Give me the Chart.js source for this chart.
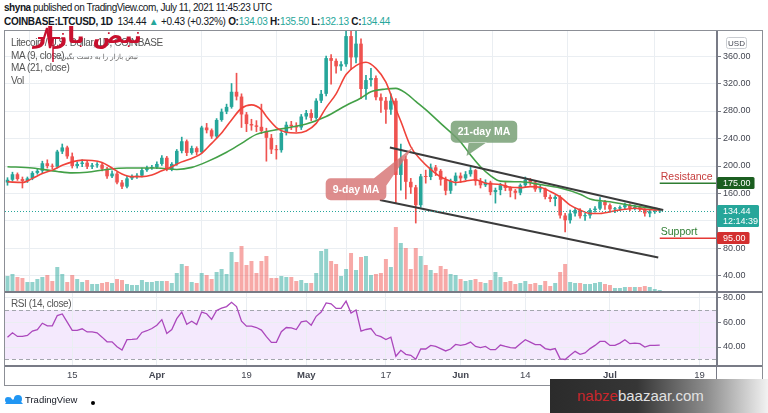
<!DOCTYPE html>
<html><head><meta charset="utf-8">
<script src="https://cdn.jsdelivr.net/npm/chart.js@4.4.0/dist/chart.umd.min.js"></script>
<style>
body{margin:0;width:768px;height:413px;overflow:hidden;background:#fff;position:relative;font-family:'Liberation Sans',Arial,sans-serif;color:#131722}
.abs{position:absolute;white-space:nowrap}
#h1{left:4px;top:2px;font-size:10px;line-height:12px;letter-spacing:-0.45px}
#h2{left:4px;top:16px;font-size:10px;line-height:12px;letter-spacing:-0.3px}
.t{color:#26a69a}
#frame{left:4px;top:30px;width:759px;height:356px;box-sizing:border-box;border:1px solid #8c8f96}
.sep{background:#787b86}
.leg{left:11px;font-size:10px;line-height:12px;color:#555;letter-spacing:-0.4px}
#banner{left:550px;top:379px;width:218px;height:34px;background:linear-gradient(90deg,#2b2b2b 0%,#363636 40%,#8d8d8d 72%,#f2f2f2 100%)}
#bannerText{left:577px;top:387px;font-size:15px;line-height:18px;letter-spacing:0px}
</style></head>
<body>
<div id="h1" class="abs"><b>shyna</b> published on TradingView.com, July 11, 2021 11:45:23 UTC</div>
<div id="h2" class="abs"><b>COINBASE:LTCUSD, 1D</b>&nbsp; 134.44 <span class="t">▲</span> +0.43 (+0.32%) <b>O:</b><span class="t">134.03</span> <b>H:</b><span class="t">135.50</span> <b>L:</b><span class="t">132.13</span> <b>C:</b><span class="t">134.44</span></div>
<div id="frame" class="abs"></div>
<canvas id="cP" class="abs" width="757" height="261" style="left:5px;top:31px"></canvas>
<canvas id="cR" class="abs" width="757" height="92" style="left:5px;top:293px"></canvas>
<div class="abs sep" style="left:5px;top:291px;width:757px;height:2px"></div>
<div class="abs sep" style="left:5px;top:365px;width:757px;height:2px"></div>
<div class="abs sep" style="left:716px;top:31px;width:1px;height:354px"></div>
<div class="abs leg" style="top:37px">Litecoin / U.S. Dollar, 1D, COINBASE</div>
<div class="abs leg" style="top:50px">MA (9, close)</div>
<div class="abs leg" style="top:62px">MA (21, close)</div>
<div class="abs leg" style="top:75px">Vol</div>
<div class="abs leg" style="top:298px">RSI (14, close)</div>
<svg class="abs" style="left:38px;top:24px" width="30" height="40"><polyline points="0,14 6,14 9,4 12,24 15,14 22,14" fill="none" stroke="#c8102e" stroke-width="2.2"/><line x1="15" y1="14" x2="15" y2="38" stroke="#c8102e" stroke-width="1.5"/></svg>
<div class="abs" style="left:60px;top:22px;width:82px;text-align:center;font-family:'DejaVu Sans';font-weight:bold;font-size:23px;line-height:26px;color:#c8102e;direction:rtl">نبض بازار</div>
<div class="abs" style="left:64px;top:53px;width:74px;text-align:center;font-family:'DejaVu Sans';font-size:7px;line-height:8px;color:#666;direction:rtl">نبض بازار را به دست بگیرید</div>
<svg class="abs" style="left:4px;top:394px" width="20" height="12"><path d="M1 10 L6 3 L9 6 L12 2 L19 10 Z" fill="#2196f3"/><circle cx="4" cy="6" r="3" fill="#2196f3"/><circle cx="14" cy="5" r="4" fill="#2196f3"/></svg>
<div class="abs" style="left:25px;top:394px;font-size:9.5px;line-height:12px;color:#131722">TradingView</div>
<div class="abs" style="left:91px;top:401px;width:4px;height:4px;border-radius:2px;background:#000"></div>
<div id="banner" class="abs"></div>
<div id="bannerText" class="abs"><span style="color:#c9262c">nabze</span><span style="color:#e2e2e2">baazaar.com</span></div>
<script>
// ---------- data ----------
const firstDay = '2021-03-02';
const opens  = [176,180,188,181,178,182,190,193,204,200,199,221,227,214,200,203,205,199,201,202,196,185,189,176,170,
 182,184,186,194,197,198,203,212,195,203,222,236,219,226,220,256,252,243,267,279,286,308,301,275,261,259,
 257,251,241,224,223,248,260,258,256,272,277,270,295,305,357,353,345,348,389,358,378,312,325,328,300,
 295,282,295,187,210,177,169,143,185,184,198,193,180,164,178,186,182,188,194,178,172,176,162,165,172,
 168,164,161,172,180,176,166,167,155,152,155,128,121,131,136,127,128,136,138,148,143,137,138,140,143,139,140,137,131,134,134.03];
const highs  = [183,191,190,184,184,192,196,207,209,203,223,232,229,219,206,209,208,204,205,204,198,193,191,179,185,
 187,189,197,200,201,206,215,214,205,224,242,238,229,228,258,262,254,269,283,290,320,335,305,278,268,266,
 290,255,246,230,252,264,265,263,275,281,282,298,310,360,362,356,352,400,413,400,385,332,342,331,305,
 300,305,298,232,214,182,172,188,194,203,201,195,184,181,190,190,192,198,195,182,180,178,168,175,176,
 170,166,174,184,182,178,172,168,158,157,157,131,136,139,138,131,138,141,154,150,145,140,142,146,145,143,142,138,136,137,135.5];
const lows   = [172,178,179,168,176,180,188,190,197,196,197,218,211,197,197,199,196,196,198,193,182,183,174,167,168,
 180,182,184,192,195,196,201,193,193,201,219,215,217,216,219,248,240,241,265,276,284,296,256,250,252,250,
 247,207,218,210,220,245,253,250,253,268,266,268,292,302,319,335,339,345,340,350,298,297,316,296,278,
 262,275,146,165,152,160,117,140,175,180,186,172,158,160,172,176,180,185,172,168,170,158,146,158,164,
 155,152,158,170,172,163,162,152,148,142,124,104,117,127,124,121,124,133,136,137,133,132,135,137,135,136,134,127,126,131,132.13];
const closes = [180,188,181,178,182,190,193,204,200,199,221,227,214,200,203,205,199,201,202,196,185,189,176,170,182,
 184,186,194,197,198,203,212,195,203,222,236,219,226,220,256,252,243,267,279,286,308,301,275,261,259,257,
 251,241,224,223,248,260,258,256,272,277,270,295,305,357,353,345,348,389,358,378,312,325,328,300,295,
 282,295,187,210,177,169,143,185,184,198,193,180,164,178,186,182,188,194,178,172,176,162,165,172,168,
 164,161,172,180,176,166,167,155,152,155,128,121,131,136,127,128,136,138,148,143,137,138,140,143,139,140,137,131,134,134.03,134.44];
const volumes = [320,360,300,280,200,200,260,300,340,220,500,360,200,340,260,200,240,160,160,180,200,180,260,240,160,
 140,140,240,200,200,220,220,220,180,380,560,520,200,180,380,340,260,400,460,360,800,600,920,540,620,380,
 620,720,280,280,320,300,300,220,240,180,180,380,820,860,620,560,320,460,780,440,700,720,340,360,380,
 660,500,1300,980,880,460,880,720,540,440,380,520,460,360,340,260,220,240,260,200,180,240,400,300,200,
 220,160,180,220,160,180,140,220,120,180,400,560,200,180,180,160,160,180,200,160,140,80,80,100,100,100,100,120,100,60,40];
const rsi = [48,51.5,48.6,48.6,49.4,52.9,54,59.3,57.2,57.2,65.5,66.8,60.2,53.5,53.5,54.8,52.2,52.2,51.5,48,44.2,44.2,40.2,37.5,
 46,46.2,46.5,51.8,53.2,55,57.7,62.2,51,54.2,63,68.3,58.5,60.9,58.2,68.3,67,62.4,69.6,71.5,72.8,76.3,72.8,60.9,56.9,56.9,55.8,53.7,48.4,43.8,
 43.8,52.4,55.8,55.6,54.2,60.4,61.2,57.7,64.9,68.4,75.8,75,71.3,71.3,77.2,67.6,70,52.9,54.2,55,49.7,48.4,
 46.1,48,32.5,37.3,34.1,33.3,30.1,38.4,38.4,41.3,40.5,38.7,36.8,38.4,42.1,41.3,42.1,44,40.5,39.5,
 40.5,37.8,37.8,41.6,40.5,39.5,39.2,42.7,45.9,44,41.9,41.9,38.7,37.8,38.7,30.4,29.9,33.3,36.5,34.1,
 35.2,38.7,41.3,44.5,44.5,41.3,41.3,43.2,45.9,42.7,43.2,42.7,40,41.3,41.3,41.6];
// moving averages: [day index, value]
const ma9Points = [[0,177],[3,176],[5,182],[7,189],[9,194],[11,201],[13,206],[15,208.5],[17,208],[19,205],[21,197],[23,188.5],
 [25,184.5],[27,184.5],[29,187],[31,193],[33,199],[35,206],[37,211],[39,218.5],[41,233],[43,248],[45,267],[47,284],[49,289],
 [51,282],[52,272],[54,256],[56,249],[58,248],[60,251],[62,262],[64,285],[66,305],[68,333],[70,346],[72,351],[74,342],[76,322],
 [78,283],[79,265],[81,228],[83,209],[85,195],[87,184],[89,178],[90,176],[92,178],[94,180],[96,175],[99,173],[101,169],[103,168.5],
 [105,170],[107,169],[109,163],[111,155],[113,143],[115,136],[117,131],[119,131],[120,132],[122,135],[124,137],[126,138.5],[128,137],[130,136],[131,136]];
const ma21Points = [[0,199],[5,197],[10,192],[13,190],[16,191],[20,195],[24,197],[30,197],[34,195],[37,198],[40,206],[44,220],
 [47,233],[50,246],[55,254],[60,261],[64,272],[68,288],[71,299],[73,308],[76,312],[78,313],[80,306],[82,294],[84,282],[87,262],
 [91,235],[93,216],[95,199],[97,186],[99,178],[103,177],[107,173],[111,168],[115,159],[117,152],[121,148],[125,143],[129,139],[131,137.5]];
// drawn trend channel: [day index, price]
const upperChannel = [[76.8,227],[131.7,136]];
const lowerChannel = [[74.8,150.5],[130.7,67]];
const priceTicks = [40,80,120,160,200,240,280,320,360];
const rsiTicks = [40,60,80];
const timeTicks = [['2021-03-15','15'],['2021-04-01','Apr'],['2021-04-19','19'],['2021-05-01','May'],['2021-05-17','17'],
 ['2021-06-01','Jun'],['2021-06-14','14'],['2021-07-01','Jul'],['2021-07-19','19']];
const lastPrice = 134.44, lastTime = '12:14:39';
const levels = [{text:'Resistance', price:175, from:'2021-07-11', line:'#2e7d32', textColor:'#c63c3c', tag:'#1b5e20'},
                {text:'Support', price:95, from:'2021-07-11', line:'#e53935', textColor:'#2e7d32', tag:'#d32f2f'}];
const callouts = [{text:'21-day MA', at:[95.7,250], tip:[92.2,214.5], color:'rgba(120,160,118,0.85)', tail:'bottom'},
                  {text:'9-day MA', at:[70.0,166.3], tip:[81.5,228], color:'rgba(214,112,112,0.8)', tail:'top'}];
const rsiUpper = 70, rsiLower = 30;

// ---------- chart ----------
const dayIndex = d => Math.round((Date.parse(d) - Date.parse(firstDay)) / 864e5);
const up = '#26a69a', down = '#ef5350';
const isUp = closes.map((c,i) => c >= opens[i]);
const gridColor = '#eaeef2';
const FONT = "'Liberation Sans', Arial, sans-serif";
Chart.defaults.font.family = FONT;
const xMin = -0.5, xMax = 142.5;
const tickIdx = timeTicks.map(t => dayIndex(t[0]));
const noPad = s => { s.paddingTop = 0; s.paddingBottom = 0; s.paddingLeft = 0; s.paddingRight = 0; };

const xScale = (showLabels) => ({
  type:'linear', min:xMin, max:xMax, offset:false,
  afterBuildTicks: s => { s.ticks = tickIdx.map(v => ({value:v})); },
  afterFit: s => { s.height = showLabels ? 19 : 0; noPad(s); },
  grid:{color:gridColor, drawTicks:false},
  border:{display:false},
  ticks:{display:showLabels, autoSkip:false, maxRotation:0, padding:4, color:'#434651',
    callback: v => { const k = tickIdx.indexOf(v); return k >= 0 ? timeTicks[k][1] : ''; },
    font: ctx => ({size:9.5, family:FONT, weight: (ctx.tick && /^[A-Z]/.test(timeTicks[tickIdx.indexOf(ctx.tick.value)]?.[1] || '')) ? 'bold' : 'normal'})}
});
const yRight = (min, max, ticks) => ({
  position:'right', min, max,
  afterBuildTicks: s => { s.ticks = ticks.map(v => ({value:v})); },
  afterFit: s => { s.width = 45; noPad(s); },
  grid:{color:gridColor, tickLength:4, tickColor:'#787b86'},
  border:{color:'#787b86'},
  ticks:{padding:2, color:'#434651', font:{size:9}, callback: v => Number(v).toFixed(2)}
});

function roundRect(ctx, x, y, w, h, r){ ctx.beginPath(); ctx.roundRect(x, y, w, h, r); }

const overlay = {
  id:'overlay',
  afterDatasetsDraw(chart){
    const {ctx, chartArea:a, scales:{x, y}} = chart;
    ctx.save();
    ctx.beginPath(); ctx.rect(a.left, a.top, a.right - a.left, a.bottom - a.top); ctx.clip();
    const yp = Math.round(y.getPixelForValue(lastPrice)) + 0.5;
    ctx.strokeStyle = up; ctx.lineWidth = 1; ctx.setLineDash([1,2]);
    ctx.beginPath(); ctx.moveTo(a.left, yp); ctx.lineTo(a.right, yp); ctx.stroke();
    ctx.setLineDash([]);
    levels.forEach(l => {
      const yy = y.getPixelForValue(l.price), x0 = x.getPixelForValue(dayIndex(l.from));
      ctx.strokeStyle = l.line; ctx.lineWidth = 1.5;
      ctx.beginPath(); ctx.moveTo(x0, yy); ctx.lineTo(a.right, yy); ctx.stroke();
      ctx.fillStyle = l.textColor; ctx.font = '10.5px ' + FONT; ctx.textBaseline = 'alphabetic'; ctx.textAlign = 'left';
      ctx.fillText(l.text, x0 + 1, yy - 3);
    });
    callouts.forEach(c => {
      ctx.font = 'bold 10.5px ' + FONT;
      const w = ctx.measureText(c.text).width + 14, h = 22;
      const cx = x.getPixelForValue(c.at[0]), cy = y.getPixelForValue(c.at[1]);
      const L = cx - w/2, T = cy - h/2;
      const tx = x.getPixelForValue(c.tip[0]), ty = y.getPixelForValue(c.tip[1]);
      ctx.fillStyle = c.color;
      ctx.beginPath();
      ctx.roundRect(L, T, w, h, 5);
      if (c.tail === 'bottom') { ctx.moveTo(L + 18, T + h - 0.5); ctx.lineTo(tx, ty); ctx.lineTo(L + 36, T + h - 0.5); }
      else { ctx.moveTo(L + w - 13, T + 0.5); ctx.lineTo(tx, ty); ctx.lineTo(L + w - 0.5, T + 8); }
      ctx.fill();
      ctx.fillStyle = '#fff'; ctx.textAlign = 'center'; ctx.textBaseline = 'middle';
      ctx.fillText(c.text, cx, cy + 0.5);
    });
    ctx.restore();
  },
  afterDraw(chart){
    const {ctx, chartArea:a, scales:{y}} = chart;
    ctx.save();
    ctx.font = '9px ' + FONT; ctx.textBaseline = 'middle'; ctx.textAlign = 'left';
    levels.forEach(l => {
      const yy = Math.round(y.getPixelForValue(l.price));
      const txt = l.price.toFixed(2), w = ctx.measureText(txt).width + 10;
      ctx.fillStyle = l.tag; roundRect(ctx, a.right, yy - 6, w, 12, 1.5); ctx.fill();
      ctx.fillStyle = '#fff'; ctx.fillText(txt, a.right + 6, yy + 0.5);
    });
    const yp = Math.round(y.getPixelForValue(lastPrice));
    ctx.fillStyle = up; roundRect(ctx, a.right, yp - 6, 42, 22, 1.5); ctx.fill();
    ctx.fillStyle = '#fff'; ctx.fillText(lastPrice.toFixed(2), a.right + 6, yp + 0.5); ctx.fillText(lastTime, a.right + 6, yp + 10.5);
    ctx.strokeStyle = '#c9ccd1'; ctx.lineWidth = 1; roundRect(ctx, a.right + 9.5, 6.5, 20, 11, 2); ctx.stroke();
    ctx.fillStyle = '#434651'; ctx.font = '8px ' + FONT; ctx.textAlign = 'center'; ctx.fillText('USD', a.right + 19.5, 12.5);
    ctx.restore();
  }
};

const pts = arr => arr.map(p => ({x:p[0], y:p[1]}));
new Chart(document.getElementById('cP'), {
  type:'bar',
  data:{datasets:[
    {label:'Vol', yAxisID:'yVol', data:volumes.map((v,i) => ({x:i, y:v})), grouped:false, barPercentage:0.8, categoryPercentage:1,
     backgroundColor: isUp.map(u => u ? 'rgba(38,166,154,0.5)' : 'rgba(239,83,80,0.5)'), order:10},
    {label:'wick', yAxisID:'y', data:highs.map((h,i) => ({x:i, y:[lows[i], h]})), grouped:false, barThickness:1,
     backgroundColor: isUp.map(u => u ? up : down), order:6},
    {label:'body', yAxisID:'y', data:opens.map((o,i) => ({x:i, y:[o, closes[i]]})), grouped:false, barPercentage:0.72, categoryPercentage:1,
     minBarLength:1, backgroundColor: isUp.map(u => u ? up : down), order:5},
    {type:'line', label:'MA21', yAxisID:'y', data:pts(ma21Points), borderColor:'#43a047', borderWidth:1.6, pointRadius:0, cubicInterpolationMode:'monotone', order:4},
    {type:'line', label:'MA9', yAxisID:'y', data:pts(ma9Points), borderColor:'#f0433a', borderWidth:1.6, pointRadius:0, cubicInterpolationMode:'monotone', order:3},
    {type:'line', label:'upper', yAxisID:'y', data:pts(upperChannel), borderColor:'#3b3b3b', borderWidth:2, pointRadius:0, order:1},
    {type:'line', label:'lower', yAxisID:'y', data:pts(lowerChannel), borderColor:'#3b3b3b', borderWidth:2, pointRadius:0, order:1}
  ]},
  options:{
    animation:false, responsive:false, devicePixelRatio:1, layout:{padding:0},
    plugins:{legend:{display:false}, tooltip:{enabled:false}},
    scales:{ x:xScale(false), y:yRight(16.7, 396.4, priceTicks), yVol:{display:false, position:'right', min:0, max:5220} }
  },
  plugins:[overlay]
});

const rsiBand = {
  id:'rsiBand',
  beforeDraw(chart){
    const {ctx, chartArea:a, scales:{y}} = chart;
    const y1 = y.getPixelForValue(rsiUpper), y2 = y.getPixelForValue(rsiLower);
    ctx.save(); ctx.fillStyle = '#f4e9fd'; ctx.fillRect(a.left, y1, a.right - a.left, y2 - y1); ctx.restore();
  },
  beforeDatasetsDraw(chart){
    const {ctx, chartArea:a, scales:{y}} = chart;
    ctx.save(); ctx.strokeStyle = '#a3a6ad'; ctx.lineWidth = 1; ctx.setLineDash([4,3]);
    [rsiUpper, rsiLower].forEach(v => { const yy = Math.round(y.getPixelForValue(v)) + 0.5;
      ctx.beginPath(); ctx.moveTo(a.left, yy); ctx.lineTo(a.right, yy); ctx.stroke(); });
    ctx.restore();
  }
};
new Chart(document.getElementById('cR'), {
  type:'line',
  data:{datasets:[{label:'RSI', data:rsi.map((v,i) => ({x:i, y:v})), borderColor:'#ab47bc', borderWidth:1.3, pointRadius:0, tension:0}]},
  options:{
    animation:false, responsive:false, devicePixelRatio:1, layout:{padding:0},
    plugins:{legend:{display:false}, tooltip:{enabled:false}},
    scales:{ x:xScale(true), y:yRight(24.6, 83.8, rsiTicks) }
  },
  plugins:[rsiBand]
});
</script>
</body></html>
